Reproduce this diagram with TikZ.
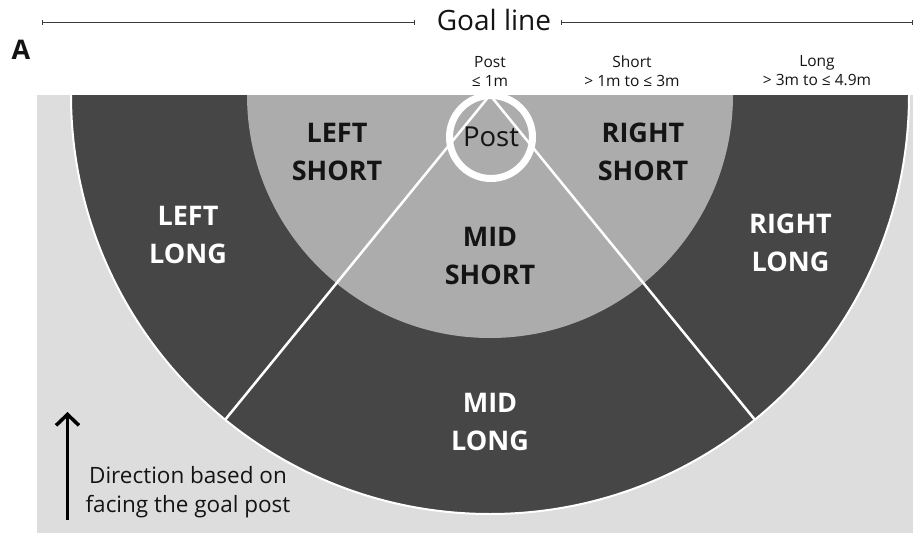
\documentclass[tikz,border=0pt]{standalone}
\usepackage{fontspec}
\setmainfont{Open Sans}
\usetikzlibrary{arrows.meta}

\definecolor{fieldbg}{HTML}{DDDDDD}
\definecolor{longzone}{HTML}{464646}
\definecolor{shortzone}{HTML}{ACACAC}
\definecolor{inkdark}{HTML}{141414}
\definecolor{goalgray}{HTML}{3C3C3C}

\begin{document}
\begin{tikzpicture}[x=1pt,y=-1pt,
  zonedark/.style={font=\fontsize{27}{37.5}\selectfont\bfseries, text=white,
    align=center, inner sep=0pt},
  zonelight/.style={zonedark, text=inkdark},
  header/.style={font=\fontsize{15.5}{19}\selectfont, text=inkdark,
    align=center, inner sep=0pt},
  goalbar/.style={draw=goalgray, line width=1.3pt,
    {Bar[width=5pt]}-{Bar[width=5pt]}},
  divider/.style={draw=white, line width=2.5pt},
]
\useasboundingbox (0,0) rectangle (915,535);

% pitch area
\fill[fieldbg] (37,95) rectangle (913,533);
\coordinate (apex) at (490,95);

% long and short zones (half discs below the goal line)
\begin{scope}
  \clip (37,95) rectangle (913,533);
  \fill[longzone] (apex) circle[radius=419pt];
  \draw[white, line width=2pt] (apex) circle[radius=419pt];
  \fill[shortzone] (apex) circle[radius=243pt];
\end{scope}

% sector dividers
\coordinate (lend) at (225.2,419.7);
\coordinate (rend) at (754.8,419.7);
\draw[divider] (apex) -- (lend);
\draw[divider] (apex) -- (rend);

% post zone
\node[circle, draw=white, line width=7pt, minimum size=83pt, inner sep=0pt,
  font=\fontsize{27.5}{29}\selectfont, text=inkdark] (post) at (491,137) {Post};

% zone labels
\node[zonelight] (leftshort)  at (337,152)   {LEFT\\SHORT};
\node[zonelight] (rightshort) at (643,152)   {RIGHT\\SHORT};
\node[zonelight] (midshort)   at (490,256)   {MID\\SHORT};
\node[zonedark]  (leftlong)   at (188,235)   {LEFT\\LONG};
\node[zonedark]  (rightlong)  at (790.5,243) {RIGHT\\LONG};
\node[zonedark]  (midlong)    at (490,422)   {MID\\LONG};

% distance headers
\node[header] (hpost)  at (490,71) {Post\\≤ 1m};
\node[header] (hshort) at (632,71) {Short\\> 1m to ≤ 3m};
\node[header] (hlong)  at (817,71) {Long\\> 3m to ≤ 4.9m};

% goal line
\node[font=\fontsize{28}{30}\selectfont, text=inkdark, inner sep=0pt] (goal) at (494,20) {Goal line};
\coordinate (gl1) at (42,22.5);
\coordinate (gl2) at (415,22.5);
\coordinate (gl3) at (561,22.5);
\coordinate (gl4) at (913,22.5);
\draw[goalbar] (gl1) -- (gl2);
\draw[goalbar] (gl3) -- (gl4);

% panel letter
\node[font=\fontsize{27}{27}\selectfont\bfseries, text=inkdark, anchor=base, inner sep=0pt] (panel) at (21,59.5) {A};

% facing direction
\coordinate (arrtail) at (67.5,520);
\coordinate (arrhead) at (67.5,412);
\draw[line width=3.5pt, -{Straight Barb[length=11pt, width=23pt]}] (arrtail) -- (arrhead);
\node[font=\fontsize{22.5}{29.5}\selectfont, align=center, inner sep=0pt, text=inkdark]
  (dirnote) at (188,492) {Direction based on\\facing the goal post};
\end{tikzpicture}
\end{document}
